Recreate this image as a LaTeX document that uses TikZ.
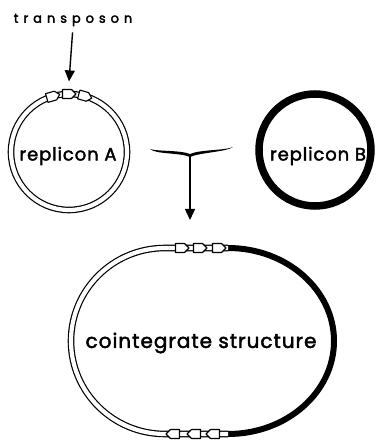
\documentclass[tikz,border=0pt]{standalone}
\usepackage{fontspec}
\usepackage{tikz}
\usetikzlibrary{arrows.meta, calc}
\newfontfamily\lettering[LetterSpace=5, FakeBold=2.2]{Poppins}
\newfontfamily\smalllettering[LetterSpace=38, FakeBold=2.5]{Poppins}
\definecolor{inkline}{HTML}{000000}
\definecolor{paperfill}{HTML}{FFFFFF}
\tikzset{
  lbl/.style    = {font=\fontsize{20}{24}\lettering, inner sep=0pt, text=inkline},
  replbl/.style = {font=\fontsize{18}{22}\lettering, inner sep=0pt, text=inkline},
  toplbl/.style = {font=\fontsize{13}{15}\smalllettering, inner sep=0pt, text=inkline},
  ring/.style   = {draw=inkline, double=paperfill, double distance=4.2pt, line width=1.2pt},
  fatring/.style= {draw=inkline, line width=7.5pt},
  tnbox/.style  = {draw=inkline, fill=paperfill, line width=1.1pt, line join=round},
  flow/.style   = {-{Triangle[length=11pt, width=10pt]}, line width=1.4pt, draw=inkline},
}
% one transposon segment: #1 = position, #2 = direction
\newcommand{\tnarrow}[2]{%
  \draw[tnbox, shift={#1}, rotate=#2]
    (-6.5,-4.5) -- (2.5,-4.5) -- (7,0) -- (2.5,4.5) -- (-6.5,4.5) -- cycle;}

\begin{document}
\begin{tikzpicture}[x=1pt, y=1pt]
    \useasboundingbox (0,0) rectangle (379,441);
    % donor and recipient
    \node[toplbl] (tn) at (73,421) {transposon};
    \node[circle, ring, minimum size=116pt, inner sep=0pt] (repA) at (69,289) {};
    \node[replbl] (repAtxt) at (68,285) {replicon A};
    \node[circle, fatring, minimum size=112pt, inner sep=0pt] (repB) at (315,291) {};
    \node[replbl] (repBtxt) at (318,285) {replicon B};
    \foreach \a in {106,90,74}{\tnarrow{($(repA)+(\a:58)$)}{\a-90}}
    \draw[flow, shorten <=6pt] (tn.south) -- ([yshift=12pt]repA.north);
    % fusion brace
    \coordinate (brace) at (190,285);
    \coordinate (join) at (190,221);
    \fill[inkline] (150,292) .. controls (156,286.5) and (180,288.5) .. (190,284)
        .. controls (200,288.5) and (226,289) .. (233,294)
        .. controls (226,290.5) and (200,291.5) .. (190,287)
        .. controls (180,291) and (157,289.5) .. (150,292) -- cycle;
    \draw[flow] (brace) -- (join);
    % cointegrate
    \draw[fatring, line width=6pt] (228,193) arc[start angle=90, end angle=-90, x radius=106, y radius=93];
    \draw[ring] (228,193) -- (165,193) arc[start angle=90, end angle=270, x radius=94, y radius=93] -- (228,7);
    \foreach \x in {182,200,219}{\tnarrow{(\x,193)}{0}}
    \foreach \x in {173,194,213}{\tnarrow{(\x,7)}{180}}
    \node[lbl] (coint) at (201,98) {cointegrate structure};
\end{tikzpicture}
\end{document}
